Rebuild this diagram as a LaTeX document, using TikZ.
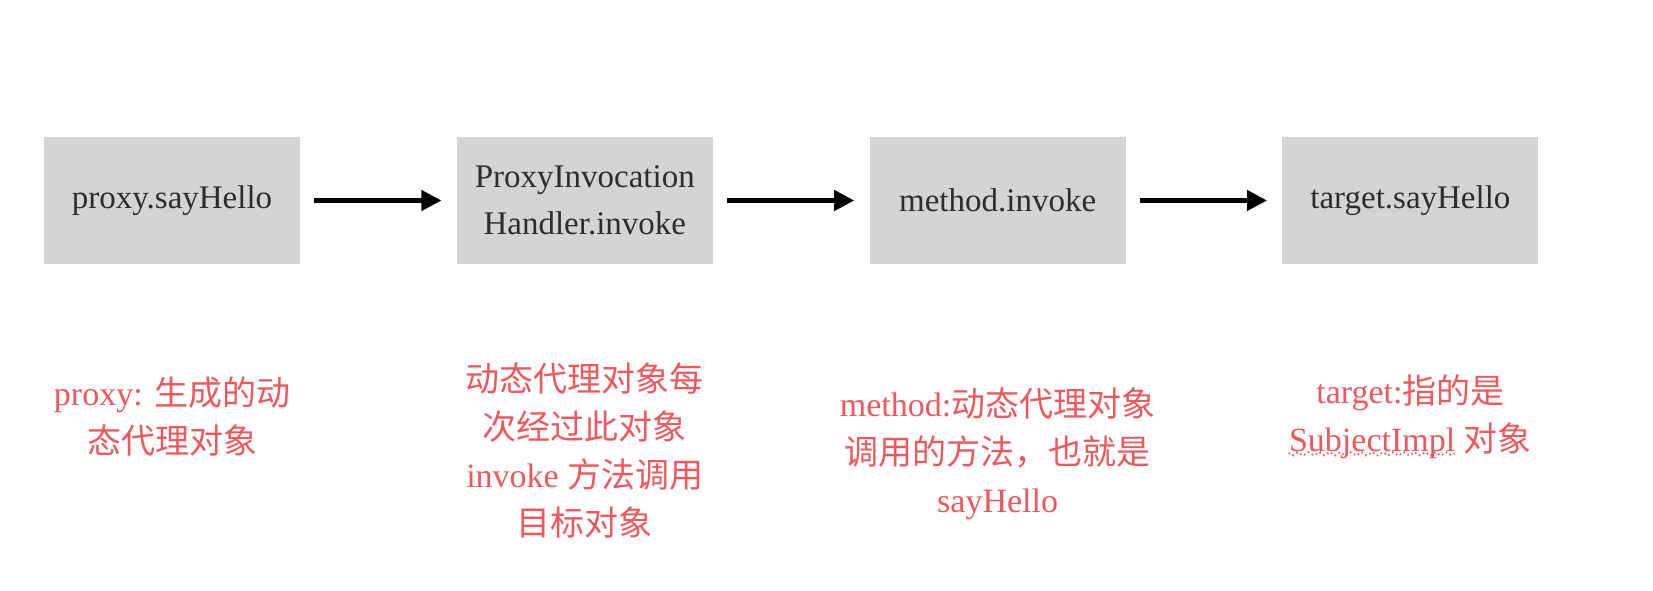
\documentclass[tikz,border=0pt]{standalone}
\usepackage{fontspec}
\setmainfont{Liberation Serif}
\newfontfamily\cjk{Noto Sans CJK SC}
\usetikzlibrary{arrows.meta, positioning, decorations.pathmorphing}
\definecolor{boxgray}{RGB}{212,212,212}
\definecolor{notered}{RGB}{238,88,92}
\definecolor{textgray}{RGB}{45,45,45}

\begin{document}
\begin{tikzpicture}[
    call/.style={fill=boxgray, minimum width=128pt, minimum height=63.5pt, inner sep=0pt, align=center, text=textgray, font=\fontsize{16.5}{23.5}\selectfont},
    note/.style={text=notered, align=center, inner sep=5pt, font=\fontsize{17}{24}\selectfont},
    link/.style={line width=2.2pt, -{Triangle[length=10pt, width=10pt]}, shorten <=7pt, shorten >=7.5pt},
    wavy/.style={draw=notered, line width=0.8pt, dotted, decorate, decoration={snake, segment length=3pt, amplitude=0.8pt}},
    node distance=78pt
]
    % Frame
    \useasboundingbox (0,0) rectangle (826.5pt,295pt);
    % Call chain
    \node[call] (proxy) at (86pt,194.75pt) {proxy.sayHello};
    \node[call, right=of proxy] (handler) {ProxyInvocation\\Handler.invoke};
    \node[call, right=of handler] (method) {method.invoke};
    \node[call, right=of method] (target) {target.sayHello};
    % Arrows between the calls
    \foreach \a/\b in {proxy/handler, handler/method, method/target}
    {
        \draw[link] (\a) -- (\b);
    }
    % Notes under the calls
    \node[note, yshift=-108pt] (proxynote) at (proxy) {proxy: {\cjk 生成的动}\\{\cjk 态代理对象}};
    \node[note, yshift=-125pt] (handlernote) at (handler) {{\cjk 动态代理对象每}\\{\cjk 次经过此对象}\\invoke {\cjk 方法调用}\\{\cjk 目标对象}};
    \node[note, yshift=-126.5pt] (methodnote) at (method) {method:{\cjk 动态代理对象}\\{\cjk 调用的方法，也就是}\\sayHello};
    \node[note, yshift=-108pt] (targetnote) at (target) {target:{\cjk 指的是}\\SubjectImpl {\cjk 对象}};
    % spell-check wave under SubjectImpl
    \draw[wavy] ([xshift=5pt, yshift=7.5pt]targetnote.south west) -- ++(83pt,0);
\end{tikzpicture}
\end{document}
